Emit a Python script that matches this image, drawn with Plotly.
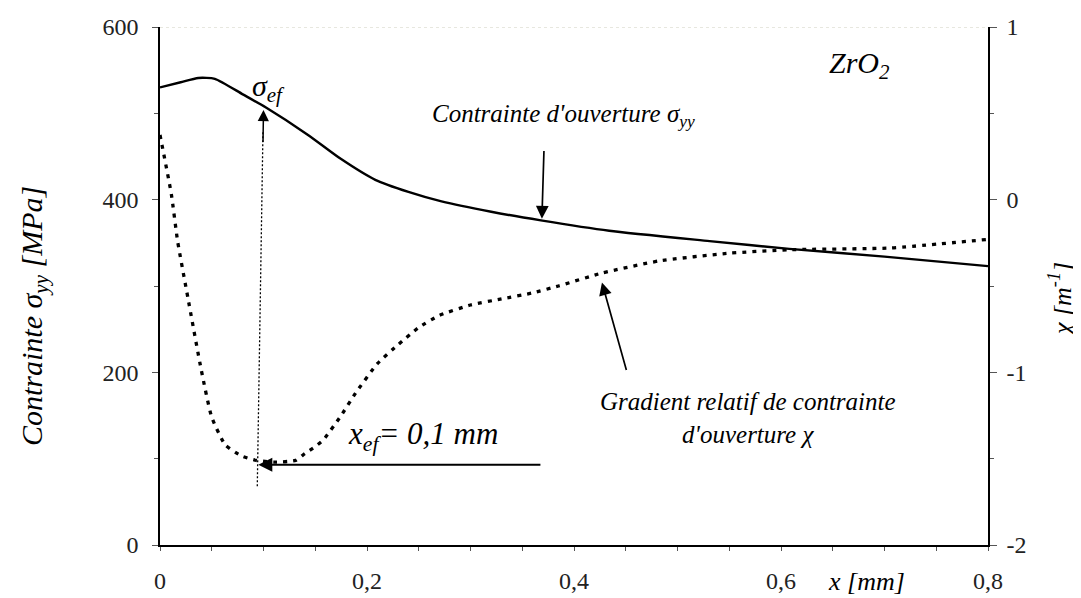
import plotly.graph_objects as go

# ---- data ----
x_sigma = [0, 0.02, 0.037, 0.053, 0.08, 0.102, 0.143, 0.175, 0.208, 0.24, 0.272, 0.32,
           0.368, 0.434, 0.531, 0.608, 0.7, 0.8]
sigma_yy = [530, 536, 541, 540, 522, 507, 475, 447, 423, 409, 398, 386,
            376, 364, 352, 343, 334, 323]

x_chi = [0, 0.011, 0.017, 0.027, 0.04, 0.05, 0.063, 0.079, 0.093, 0.11, 0.131, 0.14,
         0.15, 0.158, 0.175, 0.189, 0.21, 0.23, 0.25, 0.27, 0.30, 0.33, 0.36, 0.385, 0.427,
         0.482, 0.55, 0.608, 0.705, 0.8]
chi = [0.375, 0.03, -0.24, -0.57, -0.99, -1.26, -1.42, -1.485, -1.51, -1.52, -1.51, -1.47,
       -1.43, -1.39, -1.25, -1.12, -0.95, -0.84, -0.74, -0.67, -0.61, -0.575, -0.54, -0.50,
       -0.425, -0.355, -0.31, -0.29, -0.28, -0.23]

x_tickvals = [0, 0.2, 0.4, 0.6, 0.8]
x_ticktext = ["0", "0,2", "0,4", "0,6", "0,8"]
y_tickvals = [0, 200, 400, 600]
y2_tickvals = [-2, -1, 0, 1]
y2_ticktext = ["-2", "-1", "0", "1"]

sigma_ef = 507
x_ef_guide = [0.094, 0.0995]
y_ef_guide = [68, 480]

FONT = "Liberation Serif"

fig = go.Figure()

fig.add_trace(go.Scatter(x=x_sigma, y=sigma_yy, mode="lines",
                         line=dict(color="black", width=2.4, shape="spline", smoothing=0.6),
                         showlegend=False, hoverinfo="skip"))
fig.add_trace(go.Scatter(x=x_chi, y=chi, mode="lines", yaxis="y2",
                         line=dict(color="black", width=3.3, dash="4px,6px", shape="spline", smoothing=0.5),
                         showlegend=False, hoverinfo="skip"))
# dotted vertical guide at x_ef
fig.add_trace(go.Scatter(x=x_ef_guide, y=y_ef_guide, mode="lines",
                         line=dict(color="black", width=1.3, dash="2px,2px"),
                         showlegend=False, hoverinfo="skip"))

ital = dict(family=FONT, color="black", style="italic")
ctr = dict(xanchor="center", yanchor="middle")

annotations = [
    # arrow up to sigma_ef
    dict(x=0.1, y=sigma_ef - 3, ax=0.0995, ay=465, xref="x", yref="y", axref="x", ayref="y",
         showarrow=True, arrowhead=2, arrowsize=1.5, arrowwidth=1.5, arrowcolor="black", text=""),
    # horizontal arrow x_ef
    dict(x=0.095, y=93, ax=0.369, ay=93, xref="x", yref="y", axref="x", ayref="y",
         showarrow=True, arrowhead=2, arrowsize=1.4, arrowwidth=2, arrowcolor="black", text=""),
    # arrow to sigma_yy curve
    dict(x=0.369, y=378, ax=0.371, ay=458, xref="x", yref="y", axref="x", ayref="y",
         showarrow=True, arrowhead=2, arrowsize=1.5, arrowwidth=1.7, arrowcolor="black", text=""),
    # arrow to chi curve
    dict(x=0.427, y=304, ax=0.451, ay=201, xref="x", yref="y", axref="x", ayref="y",
         showarrow=True, arrowhead=2, arrowsize=1.5, arrowwidth=1.7, arrowcolor="black", text=""),
    dict(x=0.1046, y=529, xref="x", yref="y", text="σ<sub>ef</sub>", showarrow=False,
         font=dict(size=30, **ital), **ctr),
    dict(x=0.39, y=498, xref="x", yref="y", text="Contrainte d'ouverture σ<sub>yy</sub>",
         showarrow=False, font=dict(size=25, **ital), **ctr),
    dict(x=0.676, y=556, xref="x", yref="y", text="ZrO<sub>2</sub>", showarrow=False,
         font=dict(size=30, **ital), **ctr),
    dict(x=0.254, y=126, xref="x", yref="y", text="x<sub>ef</sub>= 0,1 mm", showarrow=False,
         font=dict(size=31, **ital), **ctr),
    dict(x=0.568, y=147, xref="x", yref="y",
         text="Gradient relatif de contrainte<br>d'ouverture χ", showarrow=False,
         font=dict(size=25, **ital), **ctr),
    # axis titles
    dict(x=(26 - 152) / 828, y=(537 - 308) / 518, xref="paper", yref="paper",
         text="Contrainte σ<sub>yy</sub> [MPa]", textangle=-90, showarrow=False,
         font=dict(size=30, **ital), **ctr),
    dict(x=(1052 - 152) / 828, y=(537 - 292) / 518, xref="paper", yref="paper",
         text="χ [m<sup>-1</sup>]", textangle=-90, showarrow=False,
         font=dict(size=26, **ital), **ctr),
    dict(x=(858 - 152) / 828, y=(537 - 573) / 518, xref="paper", yref="paper",
         text="x [mm]", showarrow=False, font=dict(size=26, **ital), **ctr),
]

fig.update_layout(
    width=1081, height=598,
    margin=dict(l=152, r=101, t=19, b=61, autoexpand=False),
    paper_bgcolor="white", plot_bgcolor="white",
    font=dict(family=FONT, size=24, color="#222"),
    showlegend=False,
    annotations=annotations,
    xaxis=dict(range=[0, 0.8], tickvals=x_tickvals, ticktext=x_ticktext, automargin=False,
               showgrid=False, zeroline=False, showline=True, linecolor="black", linewidth=1.5,
               ticks="outside", ticklen=4, tickcolor="#555", tickwidth=1,
               ticklabelstandoff=9,
               minor=dict(dtick=0.05, ticks="outside", ticklen=4, tickcolor="#555")),
    yaxis=dict(range=[0, 600], tickvals=y_tickvals, showgrid=False, zeroline=False, automargin=False,
               showline=True, linecolor="black", linewidth=1.5,
               ticks="outside", ticklen=6, tickcolor="#555", ticklabelstandoff=9,
               minor=dict(dtick=100, ticks="outside", ticklen=4, tickcolor="#555")),
    yaxis2=dict(range=[-2, 1], tickvals=y2_tickvals, ticktext=y2_ticktext, overlaying="y",
                side="right", automargin=False,
                showgrid=False, zeroline=False, showline=True, linecolor="black", linewidth=1.5,
                ticks="outside", ticklen=7, tickcolor="#555", ticklabelstandoff=5,
                minor=dict(dtick=0.5, ticks="outside", ticklen=4, tickcolor="#555")),
    shapes=[dict(type="line", xref="x", yref="y", x0=0, x1=0.8, y0=600, y1=600,
                 line=dict(color="#cfcfbf", width=1.2, dash="dot"))],
)

fig.write_html("out.html")
